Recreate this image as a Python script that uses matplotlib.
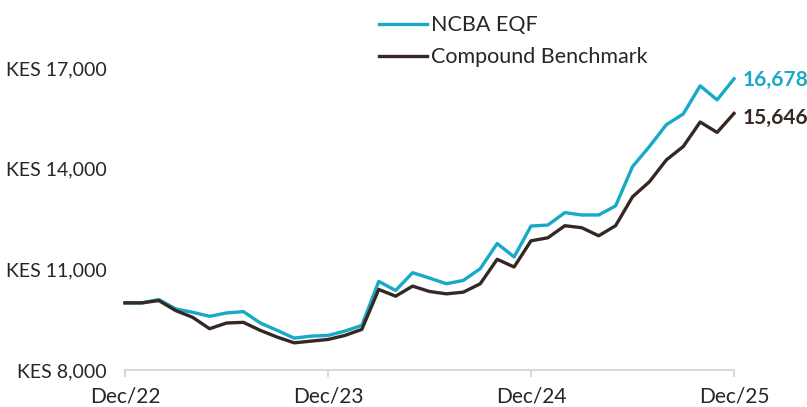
import numpy as np
import pandas as pd
import matplotlib
matplotlib.use("Agg")
import matplotlib.pyplot as plt

plt.rcParams['font.family'] = ['Lato', 'DejaVu Sans']

months = pd.date_range("2022-12-01", "2025-12-01", freq="MS")
ncba = [10000, 10000, 10100, 9820, 9720, 9600, 9700, 9740, 9400, 9180,
        8950, 9010, 9030, 9160, 9330, 10640, 10370, 10900, 10740, 10570,
        10670, 11020, 11770, 11370, 12290, 12320, 12690, 12620, 12620, 12890,
        14060, 14660, 15310, 15630, 16470, 16050, 16678]
bench = [10000, 10000, 10070, 9770, 9570, 9230, 9400, 9420, 9180, 8980,
         8810, 8860, 8910, 9030, 9210, 10400, 10200, 10500, 10340, 10270,
         10320, 10570, 11300, 11070, 11850, 11940, 12300, 12240, 12000, 12300,
         13160, 13610, 14260, 14660, 15390, 15080, 15646]
yticks = [8000, 11000, 14000, 17000]
xtick_idx = [0, 12, 24, 36]
xtick_labels = ["Dec/22", "Dec/23", "Dec/24", "Dec/25"]

teal = "#17A9C6"
dark = "#352823"
grey = "#D9D9D9"
text_col = "#262626"

x = np.arange(len(months))

fig = plt.figure(figsize=(8.07, 4.07), dpi=100)
ax = fig.add_axes([125/807, 37/407, (734-125)/807, (370-68)/407])

ax.plot(x, ncba, color=teal, lw=2.4, label="NCBA EQF", clip_on=False, zorder=3)
ax.plot(x, bench, color=dark, lw=2.4, label="Compound Benchmark", clip_on=False, zorder=3)

ax.set_xlim(0, 36)
ax.set_ylim(8000, 17000)
ax.set_yticks(yticks)
ax.set_yticklabels([f"KES {v:,}" for v in yticks], fontsize=14, color=text_col)
ax.set_xticks(xtick_idx)
ax.set_xticklabels(xtick_labels, fontsize=15, color=text_col)

for s in ["top", "right", "left"]:
    ax.spines[s].set_visible(False)
ax.spines["bottom"].set_color(grey)
ax.spines["bottom"].set_linewidth(1.5)
ax.tick_params(axis="y", length=0, pad=13)
ax.tick_params(axis="x", length=5, width=1.5, color=grey, pad=7)

ax.annotate(f"{ncba[-1]:,}", xy=(x[-1], ncba[-1]), xytext=(6, -1), textcoords="offset points",
            color=teal, fontsize=15, fontweight="bold", va="center", ha="left")
ax.annotate(f"{bench[-1]:,}", xy=(x[-1], bench[-1]), xytext=(6, -3), textcoords="offset points",
            color=dark, fontsize=15, fontweight="bold", va="center", ha="left")

fig.legend(loc="upper left", bbox_to_anchor=(360/807, 1.01), frameon=False,
           fontsize=15.5, handlelength=2.2, handletextpad=0.2, labelspacing=0.55,
           labelcolor=text_col)

fig.savefig("out.png", dpi=100)
